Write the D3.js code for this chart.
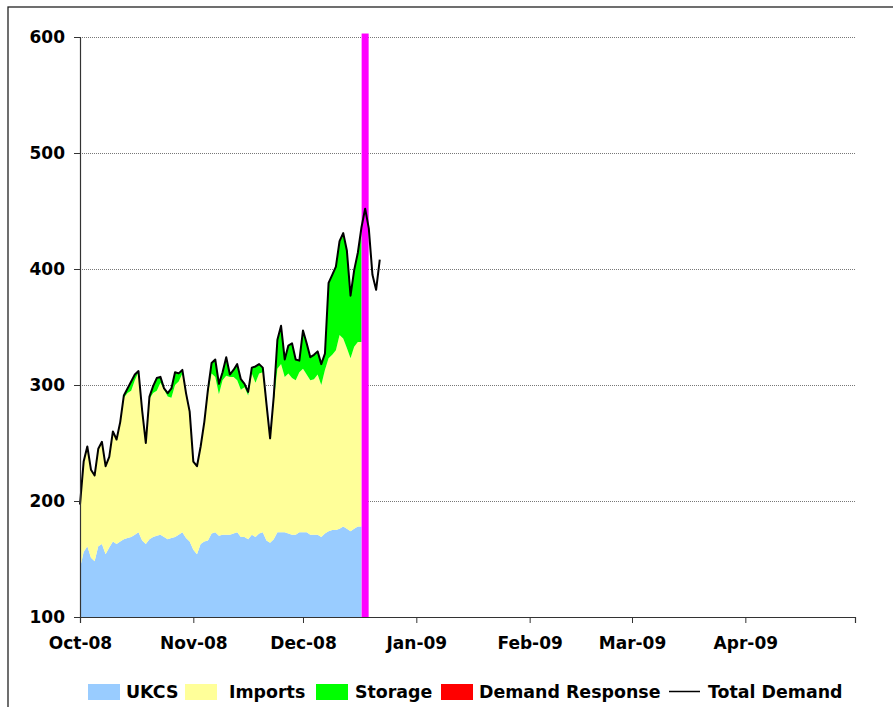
<!DOCTYPE html>
<html>
<head>
<meta charset="utf-8">
<script src="https://cdn.jsdelivr.net/npm/d3@7"></script>
<style>
  html, body { margin: 0; padding: 0; background: #fff; }
  svg { display: block; }
  text { font-family: "DejaVu Sans", sans-serif; font-weight: bold; fill: #000; }
</style>
</head>
<body>
<svg id="chart" width="893" height="707"></svg>
<script>
// ---- data (daily, starting 1 Oct 2008) ----
const startDate = "2008-10-01";
const markerDate = "2008-12-18";
const axisStart = "2008-10-01";
const axisEnd = "2009-05-01";
const yTicks = [100, 200, 300, 400, 500, 600];
const seriesNames = ["UKCS", "Imports", "Storage", "Demand Response"];
const legendLabels = ["UKCS", "Imports", "Storage", "Demand Response", "Total Demand"];

const ukcs = [142,156,161,151,148,161,163,154,160,165,163,165,167,168,169,171,173,166,163,167,
  169,170,171,169,167,168,169,171,173,168,165,158,154,163,165,166,172,173,170,171,
  171,171,172,173,169,169,167,171,169,172,173,166,164,167,173,173,173,172,171,171,
  173,173,173,171,171,171,169,172,174,175,175,176,178,176,174,176,178,178];
const imports = [55,78,86,76,74,84,88,76,78,95,90,103,122,125,126,133,138,112,87,121,
  124,125,131,127,123,121,131,132,137,124,112,76,76,84,102,127,138,134,122,133,
  137,136,135,131,127,129,124,139,133,138,138,115,90,119,141,145,134,138,135,133,
  138,141,136,133,134,138,131,141,149,151,155,167,162,156,149,157,159,159];
const storage = [0,0,0,0,0,0,0,0,0,0,0,0,2,4,8,5,1,0,0,2,
  6,11,5,1,3,8,11,7,3,1,0,0,0,0,1,3,9,15,9,7,
  16,2,6,14,9,3,3,5,14,8,4,3,0,4,25,33,15,24,30,18,
  10,33,27,20,21,20,18,14,65,69,72,80,89,84,54,66,77,99];
const demandResponse = [0,0,0,0,0,0,0,0,0,0,0,0,0,0,0,0,0,0,0,0,
  0,0,0,0,0,0,0,0,0,0,0,0,0,0,0,0,0,0,0,0,
  0,0,0,0,0,0,0,0,0,0,0,0,0,0,0,0,0,0,0,0,
  0,0,0,0,0,0,0,0,0,0,0,1,2,0,0,0,0,0];
const totalDemand = [197,234,247,227,222,245,251,230,238,260,253,268,291,297,303,309,312,278,250,290,
  299,306,307,297,293,297,311,310,313,293,277,234,230,247,268,296,319,322,301,311,
  324,309,313,318,305,301,294,315,316,318,315,284,254,290,339,351,322,334,336,322,
  321,347,336,324,326,329,318,327,388,395,402,424,431,416,377,399,414,436,452,435,
  395,382,408];

// ---- layout & style ----
const colors = { "UKCS": "#99ccff", "Imports": "#ffff99", "Storage": "#00ff00", "Demand Response": "#ff0000" };
const plot = { left: 80, right: 855, top: 37, bottom: 617 };

const svg = d3.select("#chart");
const day = 864e5;
const t0 = new Date(startDate + "T00:00:00Z").getTime();
const dateOf = i => new Date(t0 + i * day);

const x = d3.scaleUtc()
  .domain([new Date(axisStart + "T00:00:00Z"), new Date(axisEnd + "T00:00:00Z")])
  .range([plot.left, plot.right]);
const y = d3.scaleLinear().domain([100, 600]).range([plot.bottom, plot.top]);

// outer frame
svg.append("rect").attr("x", 8).attr("y", 7).attr("width", 900).attr("height", 720)
  .attr("fill", "none").attr("stroke", "#222").attr("stroke-width", 1.3);

// gridlines
svg.append("g").selectAll("line").data(yTicks.filter(v => v > 100)).join("line")
  .attr("x1", plot.left).attr("x2", plot.right)
  .attr("y1", d => y(d) + 0.5).attr("y2", d => y(d) + 0.5)
  .attr("stroke", "#777").attr("stroke-width", 1).attr("stroke-dasharray", "1,1");

// stacked areas
const rows = ukcs.map((u, i) => ({
  date: dateOf(i), "UKCS": u, "Imports": imports[i], "Storage": storage[i], "Demand Response": demandResponse[i]
}));
const stack = d3.stack().keys(seriesNames)(rows);
const area = d3.area()
  .x(d => x(d.data.date))
  .y0(d => y(Math.max(100, d[0])))
  .y1(d => y(Math.max(100, d[1])));
svg.append("defs").append("clipPath").attr("id", "clip")
  .append("rect").attr("x", plot.left).attr("y", plot.top - 10)
  .attr("width", plot.right - plot.left).attr("height", plot.bottom - plot.top + 10);
const ag = svg.append("g").attr("clip-path", "url(#clip)");
ag.selectAll("path").data(stack).join("path")
  .attr("fill", d => colors[d.key])
  .attr("d", d => area(d));

// today marker
const mx = x(new Date(markerDate + "T00:00:00Z"));
svg.append("rect").attr("x", mx - 3.5).attr("width", 7)
  .attr("y", y(603)).attr("height", y(100) - y(603))
  .attr("fill", "#ff00ff");

// total demand line
const line = d3.line().x((d, i) => x(dateOf(i))).y(d => y(d));
svg.append("path").datum(totalDemand)
  .attr("fill", "none").attr("stroke", "#000").attr("stroke-width", 2)
  .attr("stroke-linejoin", "round").attr("d", line);

// y axis
const yAxis = svg.append("g").attr("transform", `translate(${plot.left},0)`)
  .call(d3.axisLeft(y).tickValues(yTicks).tickSize(6).tickPadding(9).tickFormat(d3.format("d")));
yAxis.select(".domain").attr("stroke", "#333").attr("stroke-width", 1.2);
yAxis.selectAll(".tick line").attr("stroke", "#333");
yAxis.selectAll("text").style("font-size", "17px").attr("fill", "#000");

// x axis
const monthTicks = d3.utcMonth.range(new Date(axisStart + "T00:00:00Z"), new Date("2009-05-02T00:00:00Z"));
const fmt = d3.utcFormat("%b-%y");
const xAxis = svg.append("g").attr("transform", `translate(0,${plot.bottom})`)
  .call(d3.axisBottom(x).tickValues(monthTicks).tickSize(6).tickPadding(14)
    .tickFormat((d, i) => i === monthTicks.length - 1 ? "" : fmt(d)));
xAxis.select(".domain").attr("stroke", "#333").attr("stroke-width", 1.2);
xAxis.selectAll(".tick line").attr("stroke", "#333");
xAxis.selectAll("text").style("font-size", "17px").attr("fill", "#000");

// legend
const legendX = [88, 185, 316, 441, 669];
const legendTextX = [126, 229, 355, 479, 708];
const lg = svg.append("g");
legendLabels.forEach((lab, i) => {
  if (i < 4) {
    lg.append("rect").attr("x", legendX[i]).attr("y", 684).attr("width", 32).attr("height", 16)
      .attr("fill", colors[lab]);
  } else {
    lg.append("line").attr("x1", legendX[i]).attr("x2", legendX[i] + 31)
      .attr("y1", 691.5).attr("y2", 691.5).attr("stroke", "#000").attr("stroke-width", 1.5);
  }
  lg.append("text").attr("x", legendTextX[i]).attr("y", 698).style("font-size", "17.4px").text(lab);
});
</script>
</body>
</html>
